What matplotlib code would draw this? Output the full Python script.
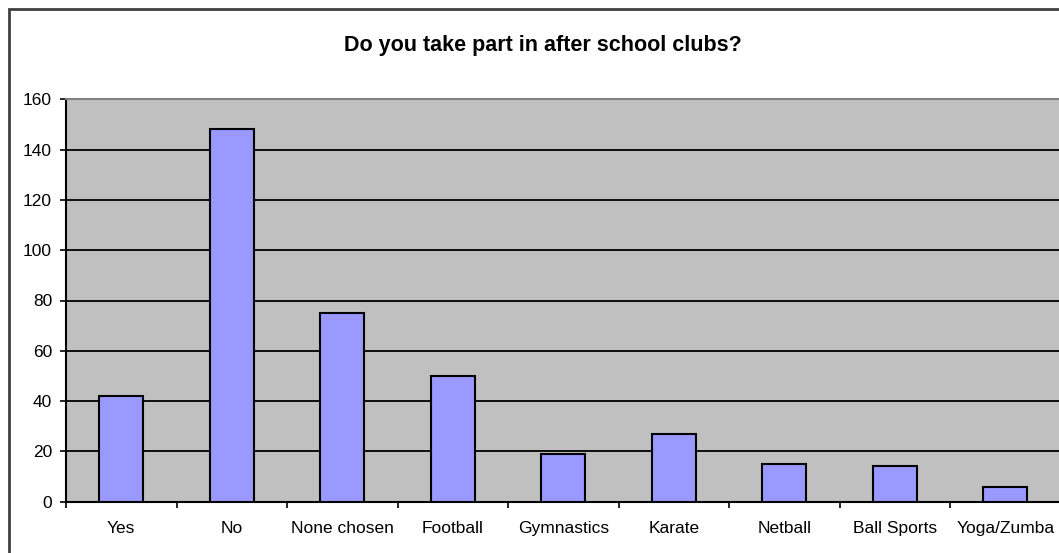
import matplotlib.pyplot as plt
from matplotlib.patches import Rectangle

plt.rcParams['font.family'] = ['Liberation Sans', 'DejaVu Sans']

# survey answers
clubs = ['Yes', 'No', 'None chosen', 'Football', 'Gymnastics', 'Karate',
         'Netball', 'Ball Sports', 'Yoga/Zumba']
counts = [42, 148, 75, 50, 19, 27, 15, 14, 6]
y_ticks = [0, 20, 40, 60, 80, 100, 120, 140, 160]

W, H = 1059, 553
fig = plt.figure(figsize=(W / 100, H / 100), dpi=100)

# outer chart border (runs off the right and bottom edge)
fig.patches.append(Rectangle((8.5 / W, -0.05), 1.2, 1 - 8.5 / H + 0.05,
                             transform=fig.transFigure, fill=False,
                             edgecolor='#404040', linewidth=2))

ax = fig.add_axes([66 / W, (H - 501.7) / H, 994.5 / W, 402.4 / H])
ax.set_facecolor('#C0C0C0')

x = range(len(clubs))
ax.bar(x, counts, width=0.4, color='#9999FF', edgecolor='black',
       linewidth=1.5, zorder=3)

ax.set_xlim(-0.5, len(clubs) - 0.5)
ax.set_ylim(0, 160)
ax.set_yticks(y_ticks)
ax.yaxis.grid(True, color='black', linewidth=1.3, zorder=1)
ax.set_axisbelow(True)

# ticks sit on the category boundaries, labels in the middle
ax.set_xticks([i - 0.5 for i in range(len(clubs) + 1)])
ax.set_xticklabels([])
ax.set_xticks(list(x), minor=True)
ax.set_xticklabels(clubs, minor=True)
ax.tick_params(axis='x', which='major', length=4, width=1.2, color='black')
ax.tick_params(axis='x', which='minor', length=0, pad=14, labelsize=12.5)
ax.tick_params(axis='y', length=4, width=1.2, pad=6, labelsize=12.5)

for side in ['left', 'bottom']:
    ax.spines[side].set_color('black')
    ax.spines[side].set_linewidth(1.5)
ax.spines['top'].set_color('#808080')
ax.spines['top'].set_linewidth(1.5)
ax.spines['right'].set_visible(False)

fig.text(543 / W, 1 - 45 / H, 'Do you take part in after school clubs?',
         ha='center', va='center', fontsize=15.5, fontweight='bold')

fig.savefig('out.png', dpi=100)
